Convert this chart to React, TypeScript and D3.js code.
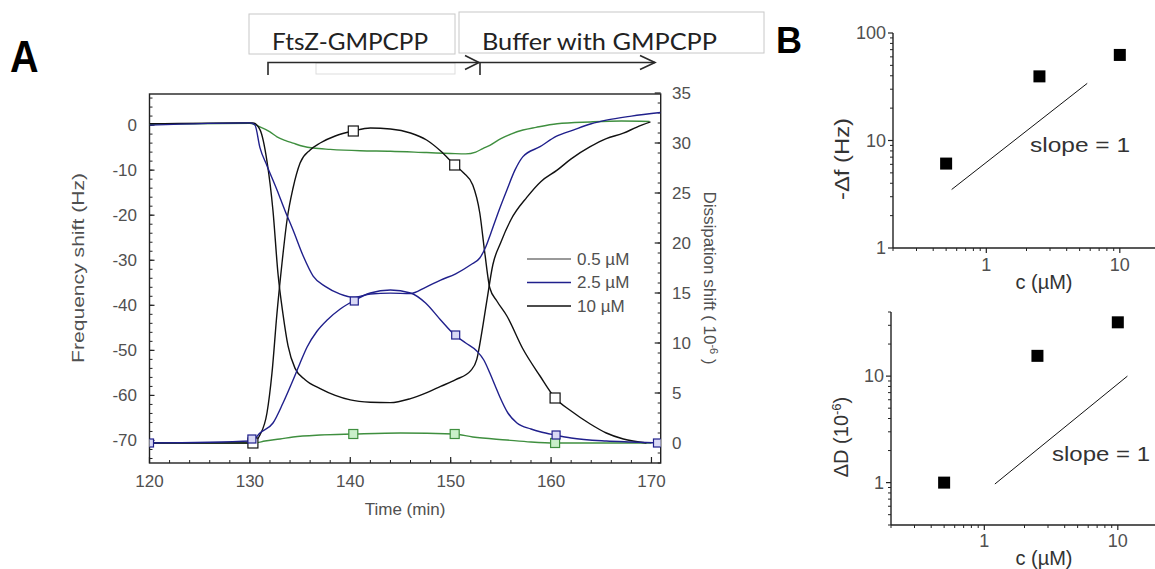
import React from 'react';
import * as d3 from 'd3';

// ---- Panel A: QCM-D traces, [time (min), value] ----
// frequency shift (Hz), left axis
const freq05: [number, number][] = [
  [120, 0.2], [130, 0.4], [131, -0.4], [132, -1.5], [132.7, -2.6], [133.5, -3.4], [134.3, -4],
  [135.3, -4.7], [136.3, -5.1], [138, -5.4], [141, -5.7], [144, -5.8], [147.6, -6.1], [150, -6.3],
  [151.5, -6.4], [152.5, -6], [153.2, -5.2], [153.9, -4.5], [155, -3], [156, -2], [157.2, -1.1],
  [158.5, -0.5], [160.6, 0.3], [163.9, 0.7], [167, 0.9], [169.8, 0.8],
];
const freq25: [number, number][] = [
  [120, 0], [130, 0.5], [130.5, 0], [131, -5], [131.7, -9], [132.7, -14.4], [133.5, -19],
  [134.3, -23.3], [135.3, -29], [136.3, -33.5], [137.5, -35.8], [139, -37.5], [140.3, -38.2],
  [142, -37.5], [144, -37.3], [146, -37.4], [147.5, -36], [149, -34.4], [150.5, -33], [152, -31],
  [152.9, -29.5], [153.5, -27], [154, -24], [154.8, -19], [155.6, -14.4], [156.4, -10],
  [157.2, -7], [158.9, -4.8], [160.5, -2.5], [162.2, -1.1], [164, 0.3], [165.5, 1.1], [168, 2],
  [170.9, 2.8],
];
const freq10: [number, number][] = [
  [120, 0.3], [129, 0.5], [130.3, 0.5], [131, -1], [131.7, -8], [132.3, -19], [132.8, -33],
  [133.3, -42], [133.8, -49], [134.5, -54], [135.5, -56.5], [137, -58.5], [138.5, -60], [140, -61],
  [142, -61.5], [144, -61.6], [146, -60.7], [147.5, -59.5], [149, -58], [150.5, -56.5], [152, -54.5],
  [152.6, -52], [153.1, -46], [153.6, -39], [154.2, -31], [155, -26], [156, -21], [157.6, -16],
  [159, -12.5], [160.6, -10], [162, -7.5], [163.9, -4.8], [165.5, -3], [167.2, -1.8], [168.5, -0.5],
  [169.9, 0.7],
];
// dissipation shift (1e-6), right axis
const diss05: [number, number][] = [
  [120, 0], [130.5, 0], [131.5, 0.2], [133, 0.4], [134.3, 0.6], [137, 0.8], [140.3, 0.9], [145, 1],
  [150.3, 0.9], [152.2, 0.6], [155.6, 0.3], [158, 0.1], [160.4, 0], [170, 0],
];
const diss25: [number, number][] = [
  [120, 0], [130.2, 0.2], [131, 1], [132.3, 2], [133.3, 4], [134.3, 6.3], [135, 8], [135.7, 9.6],
  [136.7, 11.2], [137.7, 12.3], [139, 13.4], [140.3, 14.2], [142, 15], [144, 15.3], [146, 15],
  [147.5, 14], [149, 12.3], [150.4, 10.8], [151.5, 10], [152.6, 9.2], [153.3, 8.3], [153.9, 7],
  [154.4, 5.8], [154.9, 4.6], [155.7, 3], [156.6, 2], [158, 1.4], [159, 1.1], [160.4, 0.8],
  [162, 0.5], [165.5, 0.2], [168, 0.1], [170.9, 0],
];
const diss10: [number, number][] = [
  [120, 0], [130.2, 0], [131, 0.8], [131.7, 3], [132.2, 7], [132.7, 13], [133.2, 18], [133.7, 22.3],
  [134.3, 25.5], [135, 28], [136, 29.3], [137, 30], [138.5, 30.7], [140.3, 31.2], [142, 31.5],
  [144, 31.4], [146, 31], [147.6, 30.3], [149, 29.2], [150.4, 27.8], [151.3, 27], [152.2, 25.8],
  [152.9, 23], [153.4, 19], [153.9, 15.5], [154.6, 14.2], [155.6, 12.7], [157.2, 9.4],
  [158.9, 6.7], [160.4, 4.5], [162, 3.2], [163.9, 1.9], [165.5, 1], [167.2, 0.4], [169.5, 0],
];
// open-square markers on the dissipation traces
const mark05: [number, number][] = [[140.3, 0.9], [150.4, 0.9], [160.4, 0]];
const mark25: [number, number][] = [[120, 0], [130.2, 0.4], [140.4, 14.2], [150.5, 10.8], [160.5, 0.8], [170.6, 0]];
const mark10: [number, number][] = [[130.3, 0], [140.3, 31.2], [150.4, 27.8], [160.4, 4.5]];

const timeTicks = [120, 130, 140, 150, 160, 170];
const freqTicks = [0, -10, -20, -30, -40, -50, -60, -70];
const dissTicks = [0, 5, 10, 15, 20, 25, 30, 35];
const legendLabels = ['0.5 \u00b5M', '2.5 \u00b5M', '10 \u00b5M'];

// ---- Panel B: scaling with concentration ----
const concB = [0.5, 2.5, 10];
const negDeltaF = [6.1, 39.5, 62.5];
const deltaD = [1.0, 15.5, 32];
const slopeF: [number, number][] = [[0.55, 3.5], [5.7, 34]];
const slopeD: [number, number][] = [[1.2, 0.97], [11.8, 10]];
const logTicksF = [1, 10, 100];
const logTicksD = [1, 10];
const logTicksC = [1, 10];

const COL05 = '#3f8f3f';
const COL25 = '#20208c';
const COL10 = '#111111';
const AXIS = '#222';
const LABEL = '#505050';
const FONT = '"Liberation Sans", Arial, sans-serif';

function minorLog(lo: number, hi: number) {
  const out: number[] = [];
  for (let e = -1; e <= 2; e++) {
    for (let k = 2; k <= 9; k++) {
      const v = k * Math.pow(10, e);
      if (v >= lo * 0.999 && v <= hi * 1.001) out.push(v);
    }
  }
  return out;
}

function LogPanel({ top, bottom, left, right, cDomain, yDomain, yTicks, pts, slope, slopeText, xLabelY, title, titleY }: any) {
  const x = d3.scaleLog().domain(cDomain).range([left, left + 133.5 * Math.log10(cDomain[1] / cDomain[0])]);
  const y = d3.scaleLog().domain(yDomain).range([bottom, top]);
  const line = d3.line<[number, number]>().x(d => x(d[0])).y(d => y(d[1]));
  return (
    <g fontFamily={FONT}>
      {minorLog(yDomain[0], yDomain[1]).map(v => (
        <line key={'ym' + v} x1={left - 3} x2={left} y1={y(v)} y2={y(v)} stroke={AXIS} strokeWidth={1} />
      ))}
      {yTicks.map((v: number) => (
        <g key={'y' + v}>
          <line x1={left - 5} x2={left} y1={y(v)} y2={y(v)} stroke={AXIS} strokeWidth={1.2} />
          <text x={left - 7} y={y(v)} dy="0.35em" textAnchor="end" fontSize={18} fill={LABEL}>{v}</text>
        </g>
      ))}
      {minorLog(cDomain[0], cDomain[1]).map(v => (
        <line key={'xm' + v} x1={x(v)} x2={x(v)} y1={bottom} y2={bottom + 3} stroke={AXIS} strokeWidth={1} />
      ))}
      {logTicksC.map(v => (
        <g key={'x' + v}>
          <line x1={x(v)} x2={x(v)} y1={bottom} y2={bottom + 5} stroke={AXIS} strokeWidth={1.2} />
          <text x={x(v)} y={xLabelY} textAnchor="middle" fontSize={18} fill={LABEL}>{v}</text>
        </g>
      ))}
      <line x1={left} x2={left} y1={top} y2={bottom} stroke={AXIS} strokeWidth={1.4} />
      <line x1={left} x2={1155} y1={bottom} y2={bottom} stroke={AXIS} strokeWidth={1.4} />
      {concB.map((c, i) => (
        <rect key={'p' + i} x={x(c) - 6} y={y(pts[i]) - 6} width={12} height={12} fill="#000" />
      ))}
      <path d={line(slope) || ''} stroke="#111" strokeWidth={1} fill="none" />
      <text x={slopeText[0]} y={slopeText[1]} fontSize={20} fill="#333" textLength={slopeText[2]} lengthAdjust="spacingAndGlyphs">slope = 1</text>
      <text x={1044} y={xLabelY + 18} textAnchor="middle" fontSize={20} fill="#333">c (&#181;M)</text>
      {title === 'f' ? (
        <text transform={`translate(849,${titleY}) rotate(-90)`} textAnchor="middle" fontSize={20} fill="#333" textLength={82} lengthAdjust="spacingAndGlyphs">-&#916;f (Hz)</text>
      ) : (
        <text transform={`translate(848,${titleY}) rotate(-90)`} textAnchor="middle" fontSize={20} fill="#333">
          &#916;D (10<tspan dy={-7} fontSize={13}>-6</tspan><tspan dy={7}>)</tspan>
        </text>
      )}
    </g>
  );
}

export default function App() {
  const left = 149.5, right = 660.7, top = 94, bottom = 463;
  const x = d3.scaleLinear().domain([120, 170.92]).range([left, right]);
  const yL = d3.scaleLinear().domain([-75, 6.9]).range([bottom, top]);
  const yR = d3.scaleLinear().domain([-2, 34.9]).range([bottom, top]);
  const lineL = d3.line<[number, number]>().x(d => x(d[0])).y(d => yL(d[1])).curve(d3.curveMonotoneX);
  const lineR = d3.line<[number, number]>().x(d => x(d[0])).y(d => yR(d[1])).curve(d3.curveMonotoneX);

  const minorT = d3.range(120, 171, 2);
  const minorF = d3.range(-74, 7, 2);
  const minorD = d3.range(-2, 35, 1);

  const traces = [
    { f: freq05, d: diss05, m: mark05, c: COL05, fill: '#c9efc9', s: 9 },
    { f: freq10, d: diss10, m: mark10, c: COL10, fill: '#ffffff', s: 10 },
    { f: freq25, d: diss25, m: mark25, c: COL25, fill: '#d9d9f5', s: 8 },
  ];
  const legendColors = ['#777777', COL25, COL10];

  return (
    <svg width={1155} height={569} style={{ position: 'absolute', left: 0, top: 0, background: '#fff' }} fontFamily={FONT}>
      <defs>
        <clipPath id="plotA"><rect x={left} y={top} width={right - left} height={bottom - top} /></clipPath>
      </defs>
      <rect x={0} y={0} width={1155} height={569} fill="#fff" />

      {/* panel letters */}
      <text x={10} y={72} fontSize={44} fontWeight="bold" fill="#000" transform="translate(10 0) scale(0.9 1) translate(-10 0)">A</text>
      <text x={776} y={53} fontSize={36} fontWeight="bold" fill="#000">B</text>

      {/* treatment annotation */}
      <g fontFamily='Lato, "Open Sans", sans-serif'>
        <rect x={249} y={14} width={206} height={40} fill="#fff" stroke="#c8c8c8" strokeWidth={1} />
        <rect x={459} y={12} width={305} height={41} fill="#fff" stroke="#c8c8c8" strokeWidth={1} />
        <rect x={316} y={63} width={139} height={11} fill="none" stroke="#dddddd" strokeWidth={1} />
        <text x={272} y={50} fontSize={23} fill="#222" textLength={156} lengthAdjust="spacingAndGlyphs">FtsZ-GMPCPP</text>
        <text x={482} y={50} fontSize={23} fill="#222" textLength={235} lengthAdjust="spacingAndGlyphs">Buffer with GMPCPP</text>
        <g stroke="#2a2a2a" strokeWidth={1.6} fill="none">
          <polyline points="268,75 268,62.5 479,62.5" />
          <polyline points="465,55.5 479,62.5 465,69.5" />
          <polyline points="480,75 480,62.5 655,62.5" />
          <polyline points="640,55.5 655,62.5 640,69.5" />
        </g>
      </g>

      {/* panel A ticks */}
      <g stroke={AXIS}>
        {minorT.map(t => <line key={'mt' + t} x1={x(t)} x2={x(t)} y1={bottom} y2={bottom - 3} strokeWidth={1} />)}
        {timeTicks.map(t => <line key={'t' + t} x1={x(t)} x2={x(t)} y1={bottom} y2={bottom - 6} strokeWidth={1.2} />)}
        {minorF.map(v => <line key={'mf' + v} x1={left} x2={left + 3} y1={yL(v)} y2={yL(v)} strokeWidth={1} />)}
        {freqTicks.map(v => <line key={'f' + v} x1={left} x2={left + 5} y1={yL(v)} y2={yL(v)} strokeWidth={1.2} />)}
        {minorD.map(v => <line key={'md' + v} x1={right} x2={right - 3} y1={yR(v)} y2={yR(v)} strokeWidth={1} />)}
        {dissTicks.map(v => <line key={'d' + v} x1={right} x2={right - 6} y1={yR(v)} y2={yR(v)} strokeWidth={1.2} />)}
      </g>
      <rect x={left} y={top} width={right - left} height={bottom - top} fill="none" stroke={AXIS} strokeWidth={1.4} />

      <g fontSize={17} fill={LABEL}>
        {timeTicks.map(t => <text key={'tl' + t} x={x(t)} y={487} textAnchor="middle">{t}</text>)}
        {freqTicks.map(v => <text key={'fl' + v} x={137} y={yL(v)} dy="0.35em" textAnchor="end">{v}</text>)}
        {dissTicks.map(v => <text key={'dl' + v} x={672} y={yR(v)} dy="0.35em">{v}</text>)}
      </g>
      <text x={405} y={515} textAnchor="middle" fontSize={17} fill={LABEL}>Time (min)</text>
      <text transform="translate(84,268) rotate(-90)" textAnchor="middle" fontSize={17} fill={LABEL} textLength={190} lengthAdjust="spacingAndGlyphs">Frequency shift (Hz)</text>
      <text transform="translate(704,278) rotate(90)" textAnchor="middle" fontSize={17} fill={LABEL}>
        Dissipation shift ( 10<tspan dy={-6} fontSize={11}>-6</tspan><tspan dy={6}> )</tspan>
      </text>

      {/* traces */}
      <g clipPath="url(#plotA)" fill="none">
        {traces.map((tr, i) => (
          <g key={'tr' + i}>
            <path d={lineL(tr.f) || ''} stroke={tr.c} strokeWidth={1.4} />
            <path d={lineR(tr.d) || ''} stroke={tr.c} strokeWidth={1.4} />
          </g>
        ))}
        {traces.map((tr, i) => (
          <g key={'mk' + i}>
            {tr.m.map((p, j) => (
              <rect key={j} x={x(p[0]) - tr.s / 2} y={yR(p[1]) - tr.s / 2} width={tr.s} height={tr.s}
                fill={tr.fill} stroke={tr.c} strokeWidth={1.2} />
            ))}
          </g>
        ))}
      </g>

      {/* legend */}
      <g fontSize={17} fill={LABEL}>
        {legendLabels.map((l, i) => (
          <g key={l}>
            <line x1={527} x2={571} y1={259 + i * 23.5} y2={259 + i * 23.5} stroke={legendColors[i]} strokeWidth={1.4} />
            <text x={577} y={259 + i * 23.5} dy="0.35em">{l}</text>
          </g>
        ))}
      </g>

      {/* panel B */}
      <LogPanel top={33} bottom={248} left={893} right={1155} cDomain={[0.2, 20]} yDomain={[1, 100]}
        yTicks={logTicksF} pts={negDeltaF} slope={slopeF} slopeText={[1030, 152, 100]} xLabelY={271}
        title="f" titleY={159} />
      <LogPanel top={312} bottom={525} left={891} right={1155} cDomain={[0.2, 20]} yDomain={[0.4, 40]}
        yTicks={logTicksD} pts={deltaD} slope={slopeD} slopeText={[1052, 461, 98]} xLabelY={547}
        title="D" titleY={437} />
    </svg>
  );
}
